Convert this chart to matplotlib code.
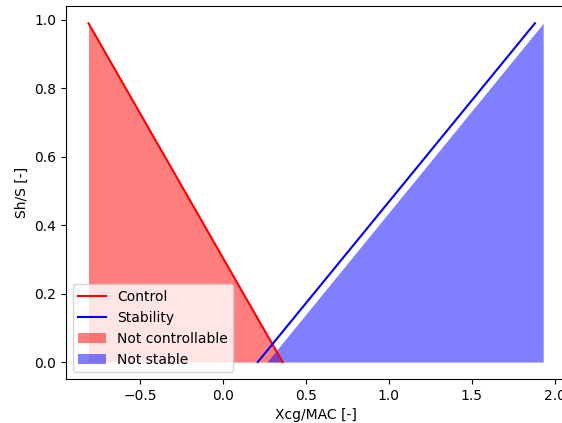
import matplotlib
matplotlib.use("Agg")
import matplotlib.pyplot as plt

# curves
control_x = [-0.81, 0.36]
control_y = [0.99, 0.0]
stability_x = [0.21, 1.88]
stability_y = [0.0, 0.99]
not_stable_x = [0.265, 1.93]
not_stable_y = [0.0, 0.99]

fig = plt.figure(figsize=(5.62, 4.23), dpi=100)
# the reference is cropped on the right, so the axes run past the figure edge
ax = fig.add_axes([0.117, 0.104, 0.89, 0.881])

ax.plot(control_x, control_y, color="red", label="Control")
ax.plot(stability_x, stability_y, color="blue", label="Stability")
ax.fill_between(control_x, 0, control_y, color="red", alpha=0.5, linewidth=0, label="Not controllable")
ax.fill_between(not_stable_x, 0, not_stable_y, color="blue", alpha=0.5, linewidth=0, label="Not stable")

ax.set_xlim(-0.947, 2.067)
ax.spines["right"].set_visible(False)
ax.set_xlabel("Xcg/MAC [-]")
ax.set_ylabel("Sh/S [-]")
ax.legend(loc="lower left")

fig.savefig("out.png", dpi=100)
